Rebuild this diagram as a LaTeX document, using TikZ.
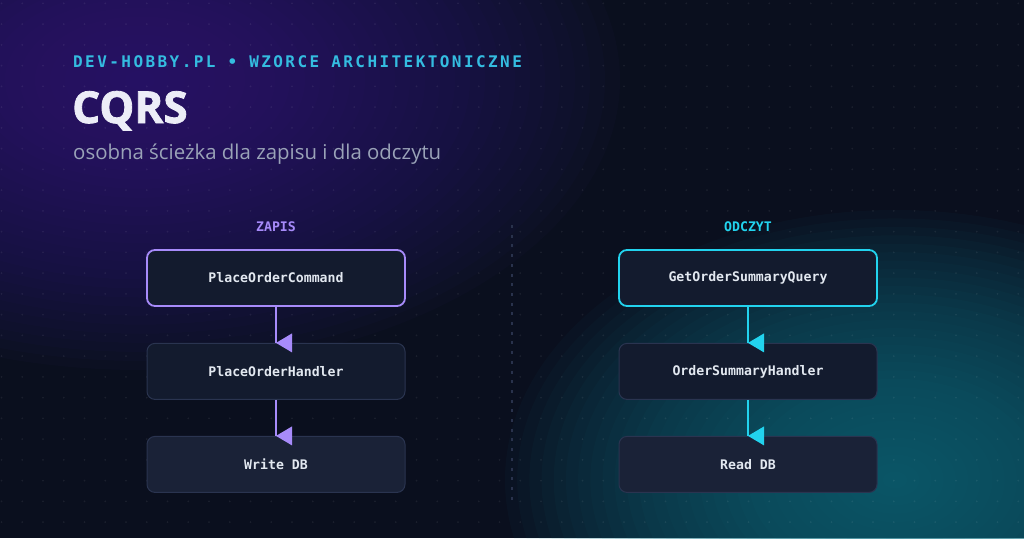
\documentclass[tikz,border=0pt]{standalone}
\usepackage{fontspec}
\setmainfont{Open Sans}
\setmonofont{DejaVu Sans Mono}
\usepackage{xcolor}
\usetikzlibrary{positioning}

\definecolor{bgbase}{HTML}{0A0F1E}
\definecolor{glowpurple}{HTML}{3E2A8C}
\definecolor{glowteal}{HTML}{137082}
\definecolor{zapis}{HTML}{A78BFA}
\definecolor{odczyt}{HTML}{22D3EE}
\definecolor{header}{HTML}{34BCE0}
\definecolor{boxfill}{HTML}{131B2E}
\definecolor{dbfill}{HTML}{1A2237}
\definecolor{boxline}{HTML}{2A3450}
\definecolor{boxtext}{HTML}{E2E8F0}
\definecolor{subgray}{HTML}{9AA3B8}
\definecolor{titlewhite}{HTML}{ECEDF7}
\definecolor{divline}{HTML}{29324C}

\begin{document}
\begin{tikzpicture}[x=1pt,y=-1pt,
    stepbox/.style={draw=boxline, line width=1pt, fill=boxfill, rounded corners=8pt,
        minimum width=258pt, minimum height=56pt, inner sep=0pt, text=boxtext,
        font=\ttfamily\bfseries\fontsize{13.2}{13.2}\selectfont},
    dbbox/.style={stepbox, fill=dbfill},
    colhead/.style={inner sep=0pt, font=\ttfamily\bfseries\fontsize{13.2}{13.2}\selectfont},
    node distance=36pt]
\useasboundingbox (0,0) rectangle (1024,538);
\fill[bgbase] (0,0) rectangle (1024,538);

% Glows
\begin{scope}
\clip (0,0) rectangle (1024,538);
\foreach \k in {1,...,32} {
    \fill[glowpurple, fill opacity=0.04] (140,80) ellipse ({480*\k/32} and {290*\k/32});
    \fill[glowteal, fill opacity=0.05] (895,480) ellipse ({390*\k/32} and {270*\k/32});
}
\end{scope}

% Dot grid
\foreach \i in {0,...,49} {
    \foreach \j in {0,...,25} {
        \fill[white, fill opacity=0.07] ({1.5+\i*20.75},{3.3+\j*20.75}) circle (1);
    }
}

% Divider
\draw[divline, line width=1.3pt, dash pattern=on 3pt off 6.7pt] (512,225) -- (512,500);

% Header
\node[anchor=base west, inner sep=0pt, text=header,
    font=\ttfamily\bfseries\fontsize{16}{16}\selectfont\addfontfeature{LetterSpace=15.2}]
    (site) at (73,67) {DEV-HOBBY.PL • WZORCE ARCHITEKTONICZNE};
\node[anchor=base west, inner sep=0pt, text=titlewhite,
    font=\bfseries\fontsize{44}{44}\selectfont\addfontfeature{FakeBold=1.8}] (title) at (72,123) {CQRS};
\node[anchor=base west, inner sep=0pt, text=subgray,
    font=\fontsize{20.4}{20.4}\selectfont] (subtitle) at (73,159) {osobna ścieżka dla zapisu i dla odczytu};

% Zapis
\node[stepbox, draw=zapis, line width=1.8pt] (cmd) at (276,278) {PlaceOrderCommand};
\node[stepbox, below=of cmd] (cmdhandler) {PlaceOrderHandler};
\node[dbbox, below=of cmdhandler] (writedb) {Write DB};
\node[colhead, text=zapis, above=17pt of cmd] (zapislabel) {ZAPIS};

\draw[zapis, line width=2pt] (cmd.south) -- (cmdhandler.north);
\fill[zapis] (cmdhandler.north) -- ++(16,-9.5) -- ++(0,19) -- cycle;
\draw[zapis, line width=2pt] (cmdhandler.south) -- (writedb.north);
\fill[zapis] (writedb.north) -- ++(16,-9.5) -- ++(0,19) -- cycle;

% Odczyt
\node[stepbox, draw=odczyt, line width=1.8pt] (query) at (748,278) {GetOrderSummaryQuery};
\node[stepbox, below=of query] (queryhandler) {OrderSummaryHandler};
\node[dbbox, below=of queryhandler] (readdb) {Read DB};
\node[colhead, text=odczyt, above=17pt of query] (odczytlabel) {ODCZYT};

\draw[odczyt, line width=2pt] (query.south) -- (queryhandler.north);
\fill[odczyt] (queryhandler.north) -- ++(16,-9.5) -- ++(0,19) -- cycle;
\draw[odczyt, line width=2pt] (queryhandler.south) -- (readdb.north);
\fill[odczyt] (readdb.north) -- ++(16,-9.5) -- ++(0,19) -- cycle;

\end{tikzpicture}
\end{document}
